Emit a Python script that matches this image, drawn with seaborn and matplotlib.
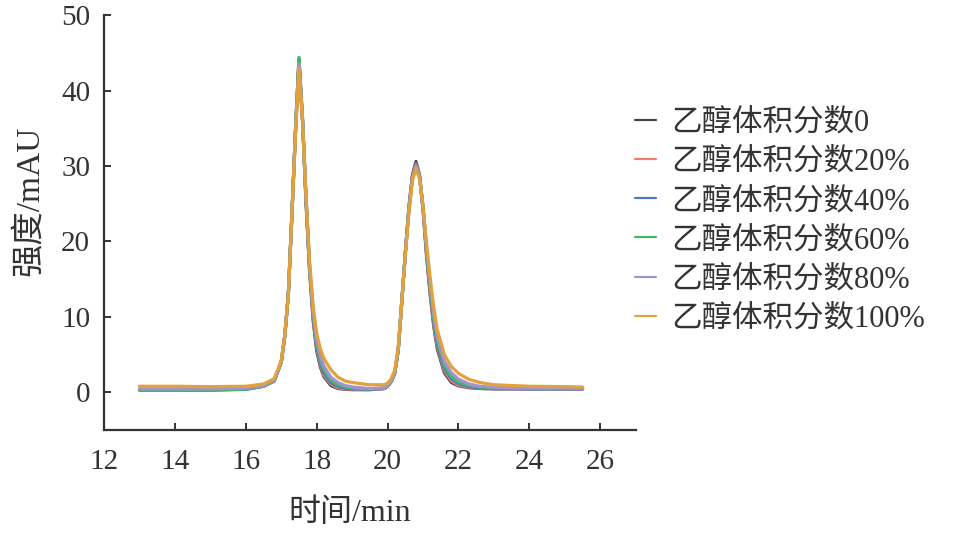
import numpy as np
import pandas as pd
import matplotlib
matplotlib.use("Agg")
import matplotlib.pyplot as plt
import seaborn as sns

# retention time (min)
time_min = [13, 14, 15, 16, 16.5, 16.8, 17.0, 17.1, 17.2, 17.3, 17.4, 17.5, 17.6, 17.7,
            17.8, 17.9, 18.0, 18.1, 18.2, 18.4, 18.6, 18.8, 19.0, 19.5, 19.9, 20.0, 20.1,
            20.2, 20.3, 20.4, 20.5, 20.6, 20.7, 20.8, 20.9, 21.0, 21.1, 21.2, 21.3, 21.4,
            21.6, 21.8, 22.0, 22.3, 22.6, 23.0, 24.0, 25.0, 25.5]

series_labels = ["乙醇体积分数0", "乙醇体积分数20%", "乙醇体积分数40%",
                 "乙醇体积分数60%", "乙醇体积分数80%", "乙醇体积分数100%"]

ethanol_0 = [0.3, 0.3, 0.3, 0.4, 0.8, 1.5, 4.0, 7.5, 13.0, 23.5, 34.5, 44.2, 36.0, 25.0,
             16.0, 9.5, 5.5, 3.4, 2.1, 0.9, 0.5, 0.4, 0.35, 0.35, 0.5, 0.8, 1.4,
             2.5, 5.6, 12.0, 18.5, 24.5, 28.8, 30.6, 28.8, 24.2, 18.0, 13.0, 8.8, 5.8,
             2.6, 1.3, 0.85, 0.6, 0.5, 0.45, 0.45, 0.45, 0.45]
ethanol_20 = [0.35, 0.35, 0.35, 0.45, 0.85, 1.5, 4.0, 7.5, 13.0, 23.5, 34.5, 43.8, 36.0, 25.2,
              16.2, 9.8, 5.9, 3.7, 2.3, 1.1, 0.6, 0.45, 0.4, 0.35, 0.5, 0.8, 1.4,
              2.5, 5.6, 12.0, 18.5, 24.4, 28.6, 30.3, 28.7, 24.3, 18.2, 13.3, 9.1, 6.1,
              2.9, 1.5, 0.95, 0.65, 0.55, 0.5, 0.45, 0.45, 0.45]
ethanol_40 = [0.35, 0.35, 0.35, 0.45, 0.85, 1.5, 4.0, 7.5, 13.0, 23.5, 34.5, 43.9, 36.1, 25.4,
              16.4, 10.1, 6.2, 4.0, 2.6, 1.3, 0.8, 0.55, 0.45, 0.4, 0.5, 0.8, 1.4,
              2.5, 5.6, 12.0, 18.5, 24.3, 28.5, 30.2, 28.7, 24.4, 18.4, 13.6, 9.4, 6.4,
              3.2, 1.8, 1.15, 0.75, 0.6, 0.5, 0.45, 0.45, 0.45]
ethanol_60 = [0.3, 0.3, 0.3, 0.4, 0.8, 1.5, 4.0, 7.5, 13.0, 23.6, 34.7, 44.4, 36.3, 25.6,
              16.6, 10.4, 6.6, 4.4, 3.0, 1.6, 1.0, 0.7, 0.55, 0.45, 0.55, 0.85, 1.4,
              2.5, 5.6, 12.0, 18.4, 24.2, 28.4, 30.0, 28.6, 24.5, 18.7, 14.0, 9.9, 6.9,
              3.6, 2.1, 1.35, 0.9, 0.7, 0.55, 0.5, 0.5, 0.5]
ethanol_80 = [0.45, 0.45, 0.45, 0.55, 0.9, 1.6, 4.0, 7.5, 13.0, 23.5, 34.4, 43.5, 36.2, 25.8,
              16.8, 10.8, 7.0, 4.9, 3.5, 2.0, 1.3, 0.9, 0.7, 0.5, 0.6, 0.9, 1.5,
              2.6, 5.7, 12.0, 18.3, 24.1, 28.3, 30.0, 28.5, 24.6, 19.0, 14.4, 10.4, 7.4,
              4.1, 2.6, 1.75, 1.1, 0.8, 0.65, 0.55, 0.55, 0.55]
ethanol_100 = [0.8, 0.8, 0.75, 0.8, 1.1, 1.8, 4.2, 7.6, 13.0, 23.4, 34.0, 43.0, 36.0, 26.0,
               17.2, 11.4, 7.8, 5.8, 4.5, 3.0, 2.0, 1.5, 1.3, 1.0, 1.0, 1.2, 1.8,
               2.9, 5.9, 12.0, 18.2, 23.8, 28.0, 29.7, 28.3, 24.7, 19.6, 15.2, 11.3, 8.3,
               5.0, 3.4, 2.5, 1.7, 1.3, 1.0, 0.8, 0.75, 0.7]

all_values = [ethanol_0, ethanol_20, ethanol_40, ethanol_60, ethanol_80, ethanol_100]
palette = ["#454545", "#EA7F6C", "#4C79C4", "#45B56C", "#A293CF", "#E3A13C"]

frames = []
for lab, vals in zip(series_labels, all_values):
    frames.append(pd.DataFrame({"time": time_min, "value": vals, "series": lab}))
df = pd.concat(frames, ignore_index=True)

sns.set_theme(style="ticks")
plt.rcParams['font.family'] = ['Liberation Serif', 'Noto Sans CJK SC', 'DejaVu Sans']
plt.rcParams['axes.unicode_minus'] = False

fig = plt.figure(figsize=(9.56, 5.38), dpi=100)
ax = fig.add_axes([0.1088, 0.2007, 0.5562, 0.7713])

sns.lineplot(data=df, x="time", y="value", hue="series", hue_order=series_labels,
             palette=palette, linewidth=2.3, ax=ax, legend=True, sort=False)

ax.set_xlim(12, 27)
ax.set_ylim(-5, 50)
ax.set_xticks([12, 14, 16, 18, 20, 22, 24, 26])
ax.set_yticks([0, 10, 20, 30, 40, 50])
for s in ["top", "right"]:
    ax.spines[s].set_visible(False)
for s in ["left", "bottom"]:
    ax.spines[s].set_color("#333333")
    ax.spines[s].set_linewidth(1.6)
ax.tick_params(direction="in", length=5, width=1.4, colors="#333333",
               labelsize=21, labelcolor="#333333")
ax.tick_params(axis="x", pad=14)
ax.tick_params(axis="y", pad=10)

ax.set_xlabel("时间/min", fontsize=23, color="#333333")
ax.set_ylabel("强度/mAU", fontsize=24, color="#333333")
ax.xaxis.set_label_coords(0.462, -0.165)
ax.yaxis.set_label_coords(-0.111, 0.552)

ax.legend(loc="center left", bbox_to_anchor=(0.664, 0.589),
          bbox_transform=fig.transFigure, frameon=False, fontsize=22,
          handlelength=0.7, handletextpad=0.5, labelspacing=0.33,
          borderpad=0, borderaxespad=0, labelcolor="#333333")
for line in ax.get_legend().get_lines():
    line.set_linewidth(1.6)

fig.savefig("out.png", dpi=100, facecolor="white")
